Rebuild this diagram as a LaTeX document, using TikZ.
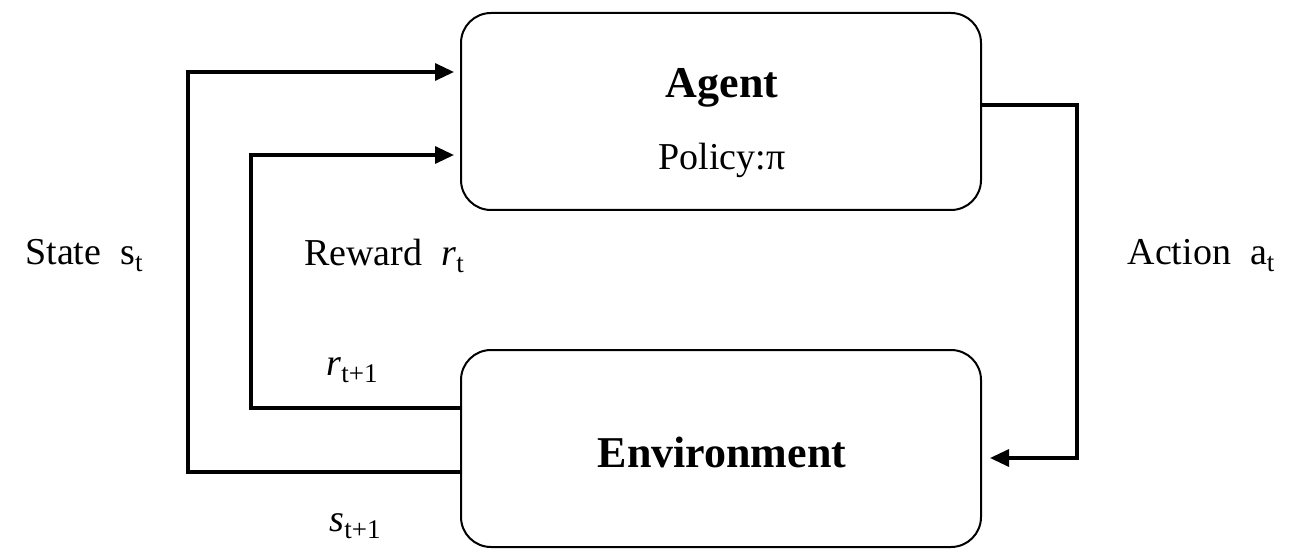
\documentclass[tikz,border=0pt]{standalone}
\usepackage{fontspec}
\setmainfont{Liberation Serif}
\usetikzlibrary{arrows.meta}
\newcommand{\mysub}[1]{\raisebox{-7pt}{\fontsize{27}{30}\selectfont #1}}
\begin{document}
\begin{tikzpicture}[x=1pt,y=-1pt,
  box/.style={draw=black,line width=2pt,rounded corners=30pt,minimum width=520pt,minimum height=197pt,inner sep=0pt},
  arr/.style={line width=3.3pt,-{Triangle[length=19pt,width=17pt]}},
  lbl/.style={font=\fontsize{38}{44}\selectfont,inner sep=0pt},
  ttl/.style={font=\fontsize{44}{50}\selectfont\bfseries,inner sep=0pt}]
\useasboundingbox (0,0) rectangle (1307,556);
\node[box] (agent) at (721,111.5) {};
\node[box] (env) at (721,448.5) {};
\node[ttl] (agentT) at (722,88) {Agent};
\node[lbl] (policy) at (722,160) {Policy:π};
\node[ttl] (envT) at (722,452) {Environment};
% connectors
\coordinate (sL) at (188,472);
\coordinate (sU) at (188,72);
\coordinate (rL) at (251,408);
\coordinate (rU) at (251,155);
\coordinate (aR) at (1077,105);
\coordinate (aD) at (1077,458);
\draw[arr,shorten >=6pt] (env.west |- sL) -- (sL) -- (sU) -- (agent.west |- sU);
\draw[arr,shorten >=6pt] (env.west |- rL) -- (rL) -- (rU) -- (agent.west |- rU);
\draw[arr,shorten >=8pt] (agent.east |- aR) -- (aR) -- (aD) -- (env.east |- aD);
% labels
\node[lbl] (state) at (84,256) {State\ \ s\mysub{t}};
\node[lbl] (reward) at (384,256) {Reward\ \ \textit{r}\mysub{t}};
\node[lbl] (action) at (1201,256) {Action\ \ a\mysub{t}};
\node[lbl] (r1) at (352,370) {\textit{r}\mysub{t+1}};
\node[lbl] (s1) at (355,526) {\textit{s}\mysub{t+1}};
\end{tikzpicture}
\end{document}
